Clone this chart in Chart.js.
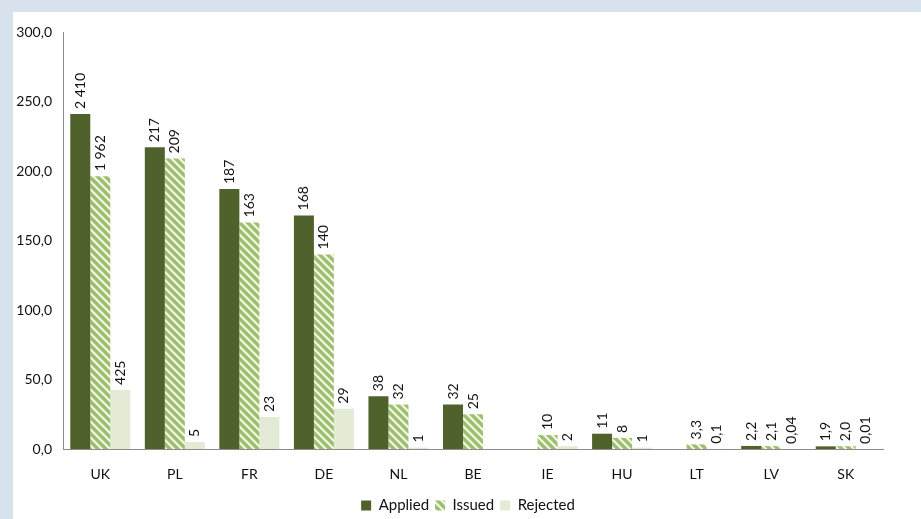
<!DOCTYPE html>
<html><head><meta charset="utf-8">
<script src="https://cdn.jsdelivr.net/npm/chart.js@4.4.1/dist/chart.umd.min.js"></script>
<style>
html,body{margin:0;padding:0;background:#d8e2ee;width:921px;height:519px;overflow:hidden}
#wrap{position:absolute;left:13px;top:12px;width:908px;height:507px;background:#fff}
canvas{display:block}
</style></head><body>
<div id="wrap"><canvas id="c" width="908" height="507"></canvas></div>
<script>
const categories = ['UK','PL','FR','DE','NL','BE','IE','HU','LT','LV','SK'];
const appliedVals = [241.0, 217, 187, 168, 38, 32, null, 11, null, 2.2, 1.9];
const issuedVals  = [196.2, 209, 163, 140, 32, 25, 10, 8, 3.3, 2.1, 2.0];
const rejectedVals= [42.5, 5, 23, 29, 1, null, 2, 1, 0.1, 0.04, 0.01];
const appliedLabels = ['2 410','217','187','168','38','32','','11','','2,2','1,9'];
const issuedLabels  = ['1 962','209','163','140','32','25','10','8','3,3','2,1','2,0'];
const rejectedLabels= ['425','5','23','29','1','','2','1','0,1','0,04','0,01'];
const yTicks = [0,50,100,150,200,250,300];

function hatch(){
  const s=8, c=document.createElement('canvas'); c.width=s; c.height=s;
  const g=c.getContext('2d');
  g.fillStyle='#f4faec'; g.fillRect(0,0,s,s);
  g.strokeStyle='#9dbf6e'; g.lineWidth=3.6; g.lineCap='square';
  [[0,0,s,s],[-s,0,0,s],[s,0,2*s,s]].forEach(l=>{g.beginPath();g.moveTo(l[0],l[1]);g.lineTo(l[2],l[3]);g.stroke();});
  return g.createPattern(c,'repeat');
}
const FONT = 'Lato, "Open Sans", sans-serif';
const labelSets=[appliedLabels,issuedLabels,rejectedLabels];

const barLabels={id:'barLabels',afterDatasetsDraw(chart){
  const ctx=chart.ctx; ctx.save();
  ctx.font='14px '+FONT; ctx.fillStyle='#111'; ctx.textAlign='left'; ctx.textBaseline='middle';
  chart.data.datasets.forEach((ds,di)=>{
    const meta=chart.getDatasetMeta(di);
    meta.data.forEach((el,i)=>{
      const t=labelSets[di][i]; if(!t||ds.data[i]==null) return;
      ctx.save(); ctx.translate(el.x, el.y-5); ctx.rotate(-Math.PI/2); ctx.fillText(t,0,0); ctx.restore();
    });
  });
  ctx.restore();
}};
const legendShift={id:'legendShift',afterLayout(chart){const l=chart.legend; if(l){l.left+=20; l.right+=20;}}};

new Chart(document.getElementById('c'),{
  type:'bar',
  data:{labels:categories,datasets:[
    {label:'Applied',data:appliedVals,backgroundColor:'#4f622b'},
    {label:'Issued',data:issuedVals,backgroundColor:hatch()},
    {label:'Rejected',data:rejectedVals,backgroundColor:'#e3ebd6'}
  ]},
  options:{
    responsive:false,animation:false,
    datasets:{bar:{categoryPercentage:0.805,barPercentage:1.0}},
    layout:{padding:{top:20,right:38,left:0,bottom:-4}},
    plugins:{
      legend:{position:'bottom',labels:{font:{family:FONT,size:15},color:'#111',boxWidth:10,boxHeight:10,padding:6}},
      tooltip:{enabled:false}
    },
    scales:{
      x:{grid:{display:false,drawTicks:false},border:{display:true,color:'#8c8c8c'},
         ticks:{font:{family:FONT,size:14},color:'#111',padding:17},
         afterFit(s){s.height=43;}},
      y:{min:0,max:300,grid:{display:false,drawTicks:false},border:{display:true,color:'#8c8c8c'},
         afterBuildTicks(s){s.ticks=yTicks.map(v=>({value:v}));},
         ticks:{font:{family:FONT,size:14},color:'#111',padding:11,
           callback:v=>v.toFixed(1).replace('.',',')},
         afterFit(s){s.width=50;}}
    }
  },
  plugins:[barLabels,legendShift]
});
</script></body></html>
